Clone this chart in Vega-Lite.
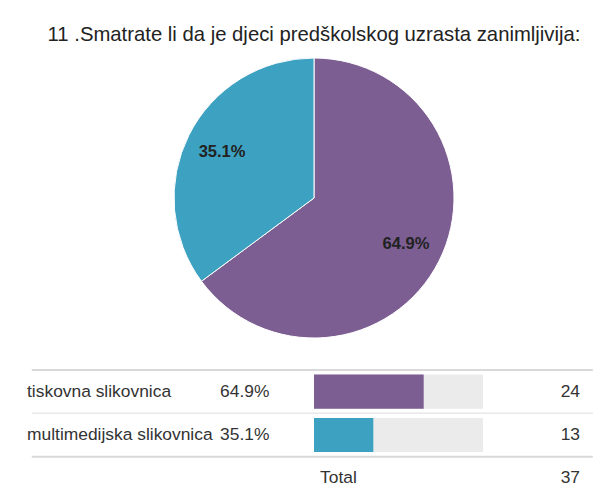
{
  "$schema": "https://vega.github.io/schema/vega-lite/v6.json",
  "background": "white",
  "padding": {"left": 0, "top": 24, "right": 0, "bottom": 0},
  "config": {"view": {"stroke": null}, "font": "Liberation Sans"},
  "title": {"text": "11 .Smatrate li da je djeci predškolskog uzrasta zanimljivija:", "fontSize": 20.3, "fontWeight": "normal", "color": "#222222", "anchor": "middle", "offset": 11},
  "spacing": 29,
  "datasets": {
    "answers": [
      {"option": "tiskovna slikovnica", "count": 24, "share": 64.9, "pct": "64.9%"},
      {"option": "multimedijska slikovnica", "count": 13, "share": 35.1, "pct": "35.1%"}
    ],
    "table": [
      {"option": "tiskovna slikovnica", "count": 24, "share": 64.9, "pct": "64.9%"},
      {"option": "multimedijska slikovnica", "count": 13, "share": 35.1, "pct": "35.1%"},
      {"option": "Total", "count": 37}
    ]
  },
  "vconcat": [
    {
      "width": 628,
      "height": 280,
      "data": {"name": "answers"},
      "encoding": {
        "theta": {"field": "count", "type": "quantitative", "stack": true},
        "order": {"field": "count", "sort": "descending"}
      },
      "layer": [
        {
          "mark": {"type": "arc", "outerRadius": 140, "stroke": "white", "strokeWidth": 1},
          "encoding": {
            "color": {"field": "option", "type": "nominal", "legend": null,
              "scale": {"domain": ["tiskovna slikovnica", "multimedijska slikovnica"], "range": ["#7c5e92", "#3da1c1"]}}
          }
        },
        {
          "mark": {"type": "text", "radius": 103, "fontSize": 16.5, "fontWeight": "bold", "color": "#222222"},
          "encoding": {"text": {"field": "pct"}}
        }
      ]
    },
    {
      "width": 628,
      "height": 130,
      "data": {"name": "table"},
      "resolve": {"scale": {"color": "independent"}},
      "layer": [
        {
          "transform": [{"filter": "datum.option !== 'multimedijska slikovnica'"}],
          "mark": {"type": "rule", "color": "#d9d9d9", "strokeWidth": 2},
          "encoding": {
            "y": {"field": "option", "type": "nominal", "bandPosition": 0, "axis": null,
              "scale": {"domain": ["tiskovna slikovnica", "multimedijska slikovnica", "Total"], "paddingInner": 0, "paddingOuter": 0}},
            "x": {"datum": -167, "type": "quantitative", "axis": null, "scale": {"domain": [-185.8, 185.8], "nice": false, "zero": false}},
            "x2": {"datum": 165}
          }
        },
        {
          "transform": [{"filter": "datum.option === 'multimedijska slikovnica'"}],
          "mark": {"type": "rule", "color": "#e8e8e8", "strokeWidth": 1.5},
          "encoding": {
            "y": {"field": "option", "type": "nominal", "bandPosition": 0},
            "x": {"datum": -167, "type": "quantitative"},
            "x2": {"datum": 165}
          }
        },
        {
          "transform": [{"filter": "datum.option !== 'Total'"}],
          "mark": {"type": "bar", "color": "#ebebeb", "height": {"band": 0.79}},
          "encoding": {
            "y": {"field": "option", "type": "nominal"},
            "x": {"datum": 100, "type": "quantitative"}
          }
        },
        {
          "transform": [{"filter": "datum.option !== 'Total'"}],
          "mark": {"type": "bar", "height": {"band": 0.79}},
          "encoding": {
            "y": {"field": "option", "type": "nominal"},
            "x": {"field": "share", "type": "quantitative"},
            "color": {"field": "option", "type": "nominal", "legend": null,
              "scale": {"domain": ["tiskovna slikovnica", "multimedijska slikovnica"], "range": ["#7c5e92", "#3da1c1"]}}
          }
        },
        {
          "transform": [{"filter": "datum.option !== 'Total'"}],
          "mark": {"type": "text", "align": "left", "fontSize": 17.4, "color": "#333333"},
          "encoding": {
            "y": {"field": "option", "type": "nominal"},
            "x": {"datum": -169.8, "type": "quantitative"},
            "text": {"field": "option"}
          }
        },
        {
          "transform": [{"filter": "datum.option !== 'Total'"}],
          "mark": {"type": "text", "align": "left", "fontSize": 17.4, "color": "#333333"},
          "encoding": {
            "y": {"field": "option", "type": "nominal"},
            "x": {"datum": -55.6, "type": "quantitative"},
            "text": {"field": "pct"}
          }
        },
        {
          "transform": [{"filter": "datum.option === 'Total'"}],
          "mark": {"type": "text", "align": "left", "fontSize": 17.4, "color": "#333333"},
          "encoding": {
            "y": {"field": "option", "type": "nominal"},
            "x": {"datum": 3.6, "type": "quantitative"},
            "text": {"field": "option"}
          }
        },
        {
          "mark": {"type": "text", "align": "right", "fontSize": 17.4, "color": "#333333"},
          "encoding": {
            "y": {"field": "option", "type": "nominal"},
            "x": {"datum": 157.4, "type": "quantitative"},
            "text": {"field": "count"}
          }
        }
      ]
    }
  ]
}
